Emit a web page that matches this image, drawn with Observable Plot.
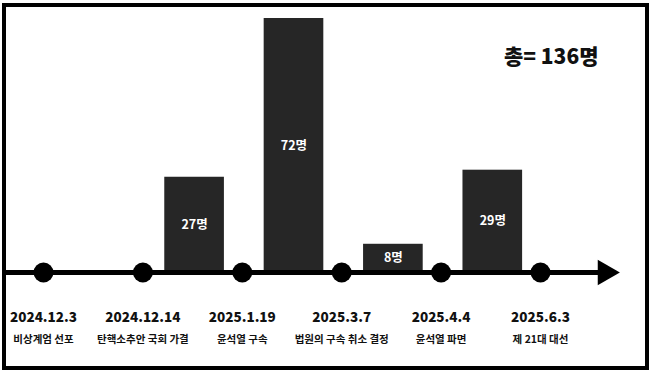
<!DOCTYPE html>
<html>
<head>
<meta charset="utf-8">
<script src="https://cdn.jsdelivr.net/npm/d3@7"></script>
<script src="https://cdn.jsdelivr.net/npm/@observablehq/plot@0.6"></script>
<style>
  html, body { margin: 0; padding: 0; background: #fff; }
  #chart svg { display: block; }
</style>
</head>
<body>
<div id="chart"></div>
<script>
const dates = ["2024.12.3", "2024.12.14", "2025.1.19", "2025.3.7", "2025.4.4", "2025.6.3"];
const events = ["비상계엄 선포", "탄핵소추안 국회 가결", "윤석열 구속", "법원의 구속 취소 결정", "윤석열 파면", "제 21대 대선"];
// counts for each interval between consecutive events
const counts = [0, 27, 72, 8, 29];
const unit = "명";

const total = d3.sum(counts);
const eventRows = dates.map((d, i) => ({i, date: d, label: events[i]}));
const barRows = counts.map((c, i) => ({i, c})).filter(d => d.c > 0);
const FONT = "'Noto Sans CJK KR', 'Noto Sans', sans-serif";
const arrowAt = dates.length - 1 + 0.65;

const chart = Plot.plot({
  width: 650,
  height: 375,
  marginLeft: 43,
  marginRight: 110,
  marginTop: 18,
  marginBottom: 103,
  x: {domain: [0, dates.length - 1], axis: null},
  y: {domain: [0, d3.max(counts)], axis: null},
  style: {fontFamily: FONT, background: "#fff"},
  marks: [
    Plot.rectY(barRows, {x1: d => d.i + 0.22, x2: d => d.i + 0.82, y1: 0, y2: "c", fill: "#262626"}),
    Plot.text(barRows, {x: d => d.i + 0.52, y: d => d.c / 2, text: d => d.c + unit, fill: "#fff", fontSize: 12.5, fontWeight: 700}),
    Plot.ruleY([0], {x1: -0.39, x2: arrowAt, stroke: "#000", strokeWidth: 5}),
    Plot.dot([0], {x: arrowAt, y: 0, symbol: "triangle", r: 9.5, rotate: 90, fill: "#000", stroke: "none"}),
    Plot.dot(eventRows, {x: "i", y: 0, r: 10, fill: "#000", stroke: "none"}),
    Plot.text(eventRows, {x: "i", y: 0, dy: 45, text: "date", fontSize: 13.5, fontWeight: 800, fill: "#111"}),
    Plot.text(eventRows, {x: "i", y: 0, dy: 67, text: "label", fontSize: 10.5, fontWeight: 700, fill: "#111"}),
    Plot.text([`총= ${total}${unit}`], {frameAnchor: "top-right", dx: 58, dy: 31, fontSize: 21, fontWeight: 800, fill: "#111"})
  ]
});

d3.select(chart).append("rect")
  .attr("x", 4).attr("y", 5).attr("width", 643).attr("height", 363)
  .attr("fill", "none").attr("stroke", "#000").attr("stroke-width", 4);

document.getElementById("chart").appendChild(chart);
</script>
</body>
</html>
